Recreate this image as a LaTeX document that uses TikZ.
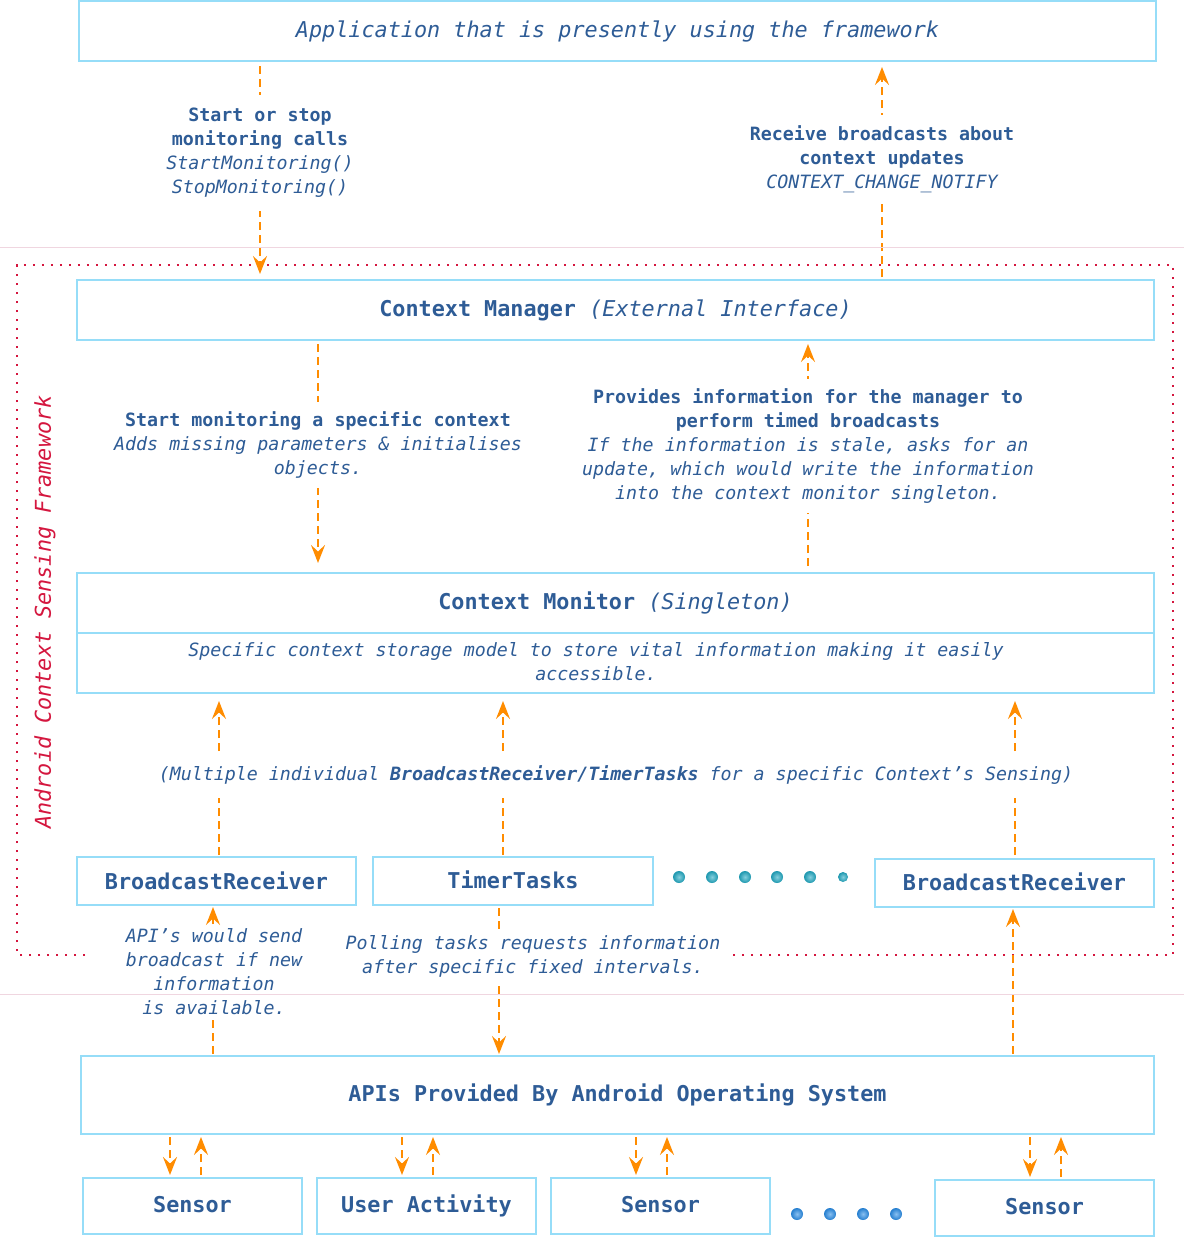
\documentclass[tikz,border=0pt]{standalone}
\usepackage{fontspec}
\setmainfont{DejaVu Sans Mono}
\usetikzlibrary{arrows.meta,backgrounds,calc}
\definecolor{txt}{RGB}{46,92,150}
\definecolor{bord}{RGB}{150,221,248}
\definecolor{arrc}{RGB}{255,140,0}
\definecolor{framec}{RGB}{212,22,62}
\definecolor{sepc}{RGB}{240,214,224}
\definecolor{tealc}{RGB}{32,168,194}
\definecolor{bdotc}{RGB}{40,140,230}
\newcommand\mybigf{\fontsize{21.8}{26}\selectfont}
\newcommand\mysmallf{\fontsize{18.3}{24}\selectfont}
\begin{document}
\begin{tikzpicture}[x=1pt,y=-1pt,
  box/.style={draw=bord,line width=2pt,text=txt,font=\mybigf\bfseries,inner sep=0pt},
  lab/.style={fill=white,text=txt,font=\mysmallf,align=center,inner xsep=4pt,inner ysep=10pt},
  arw/.style={draw=arrc,line width=2.2pt,dash pattern=on 8pt off 5pt,
     -{Stealth[length=18pt,width=14pt,inset=6.5pt]}},
  dotf/.style={draw=framec,line width=2.4pt,dash pattern=on 2.4pt off 6.6pt},
  tdot/.style={inner color=tealc!55!white,outer color=tealc!90!black},
  bdot/.style={inner color=bdotc!55!white,outer color=bdotc!90!black}]
\useasboundingbox (0,0) rectangle (1184,1237);

% boxes
\node[box,font=\mybigf\itshape,minimum width=1077pt,minimum height=60pt] (app) at (617.5,31) {\raisebox{-2pt}{Application that is presently using the framework}};
\node[box,minimum width=1077pt,minimum height=60pt] (cm) at (615.5,310) {\raisebox{2pt}{Context Manager \textnormal{\itshape(External Interface)}}};
\node[box,minimum width=1077pt,minimum height=60pt] (mon) at (615.5,603) {\raisebox{1pt}{Context Monitor \textnormal{\itshape(Singleton)}}};
\node[box,minimum width=1077pt,minimum height=60pt] (sub) at (615.5,663) {};
\node[text=txt,font=\mysmallf\itshape,align=center,inner sep=0pt] (subt) at (596,662) {Specific context storage model to store vital information making it easily\\accessible.};
\node[box,minimum width=279pt,minimum height=48pt] (br1) at (216.5,881) {BroadcastReceiver};
\node[box,minimum width=280pt,minimum height=48pt] (tt) at (513,881) {\raisebox{2pt}{TimerTasks}};
\node[box,minimum width=279pt,minimum height=48pt] (br2) at (1014.5,883) {\raisebox{2pt}{BroadcastReceiver}};
\node[box,minimum width=1073pt,minimum height=78pt] (apis) at (617.5,1095) {\raisebox{2pt}{APIs Provided By Android Operating System}};
\node[box,minimum width=219pt,minimum height=56pt] (s1) at (192.5,1206) {\raisebox{3pt}{Sensor}};
\node[box,minimum width=219pt,minimum height=56pt] (s2) at (426.5,1206) {\raisebox{3pt}{User Activity}};
\node[box,minimum width=219pt,minimum height=56pt] (s3) at (660.5,1206) {\raisebox{3pt}{Sensor}};
\node[box,minimum width=219pt,minimum height=56pt] (s4) at (1044.5,1208) {\raisebox{3pt}{Sensor}};

% labels
\node[lab,inner ysep=13pt] (l1) at (260,153) {\bfseries Start or stop\\\bfseries monitoring calls\\\itshape StartMonitoring()\\\itshape StopMonitoring()};
\node[lab] (l2) at (882,159) {\bfseries Receive broadcasts about\\\bfseries context updates\\\itshape CONTEXT\_CHANGE\_NOTIFY};
\node[lab] (l3) at (318,445) {\bfseries Start monitoring a specific context\\\itshape Adds missing parameters \& initialises\\\itshape objects.};
\node[lab] (l4) at (808,446) {\bfseries Provides information for the manager to\\\bfseries perform timed broadcasts\\\itshape If the information is stale, asks for an\\\itshape update, which would write the information\\\itshape into the context monitor singleton.};
\node[lab,font=\mysmallf\itshape,inner ysep=14pt] (l5) at (616,775) {(Multiple individual \textbf{BroadcastReceiver/TimerTasks} for a specific Context’s Sensing)};
\node[lab,font=\mysmallf\itshape,inner ysep=3pt] (l6) at (214,972) {API’s would send\\broadcast if new\\information\\is available.};
\node[lab,font=\mysmallf\itshape,inner ysep=4pt] (l7) at (533,956) {Polling tasks requests information\\after specific fixed intervals.};

\node[rotate=90,text=framec,font=\mybigf\itshape,inner sep=0pt] (fw) at (45,612) {Android Context Sensing Framework};

% x positions of connectors
\coordinate (x5) at (219,0);
\coordinate (x6) at (503,0);
\coordinate (x7) at (1015,0);
\coordinate (x8) at (213,0);
\coordinate (x9) at (499,0);
\coordinate (x10) at (1013,0);
\coordinate (d1) at (170,0); \coordinate (u1) at (201,0);
\coordinate (d2) at (402,0); \coordinate (u2) at (433,0);
\coordinate (d3) at (636,0); \coordinate (u3) at (667,0);
\coordinate (d4) at (1030,0); \coordinate (u4) at (1061,0);

\begin{scope}[on background layer]
% frame
\draw[dotf] (85,955) -- (17,955) -- (17,265) -- (1173,265) -- (1173,955) -- (728,955);
% connectors
\draw[arw,shorten <=4pt,shorten >=5pt] (app.south -| l1) -- (cm.north -| l1);
\draw[arw,shorten <=2pt,shorten >=5pt] (cm.north -| l2) -- (app.south -| l2);
\draw[arw,shorten <=3pt,shorten >=9pt] (cm.south -| l3) -- (mon.north -| l3);
\draw[arw,shorten <=6pt,shorten >=3pt] (mon.north -| l4) -- (cm.south -| l4);
\draw[arw,shorten <=1pt,shorten >=7pt] (br1.north -| x5) -- (sub.south -| x5);
\draw[arw,shorten <=1pt,shorten >=7pt] (tt.north -| x6) -- (sub.south -| x6);
\draw[arw,shorten <=3pt,shorten >=7pt] (br2.north -| x7) -- (sub.south -| x7);
\draw[arw,shorten <=1pt,shorten >=1pt] (apis.north -| x8) -- (br1.south -| x8);
\draw[arw,shorten <=2pt,shorten >=1pt] (tt.south -| x9) -- (apis.north -| x9);
\draw[arw,shorten <=1pt,shorten >=1pt] (apis.north -| x10) -- (br2.south -| x10);
\draw[arw,shorten <=2pt,shorten >=2pt] (apis.south -| d1) -- (s1.north -| d1);
\draw[arw,shorten <=2pt,shorten >=2pt] (s1.north -| u1) -- (apis.south -| u1);
\draw[arw,shorten <=2pt,shorten >=2pt] (apis.south -| d2) -- (s2.north -| d2);
\draw[arw,shorten <=2pt,shorten >=2pt] (s2.north -| u2) -- (apis.south -| u2);
\draw[arw,shorten <=2pt,shorten >=2pt] (apis.south -| d3) -- (s3.north -| d3);
\draw[arw,shorten <=2pt,shorten >=2pt] (s3.north -| u3) -- (apis.south -| u3);
\draw[arw,shorten <=2pt,shorten >=2pt] (apis.south -| d4) -- (s4.north -| d4);
\draw[arw,shorten <=2pt,shorten >=2pt] (s4.north -| u4) -- (apis.south -| u4);
\end{scope}

% separators
\draw[sepc,line width=1pt] (0,247) -- (1184,247);
\draw[sepc,line width=1pt] (0,994) -- (1184,994);

% dots
\foreach \x in {679,712,745,777,810} \shade[tdot] (\x,877) circle (6pt);
\shade[tdot] (843,877) circle (5pt);
\foreach \x in {797,830,863,896} \shade[bdot] (\x,1214) circle (6pt);
\end{tikzpicture}
\end{document}
